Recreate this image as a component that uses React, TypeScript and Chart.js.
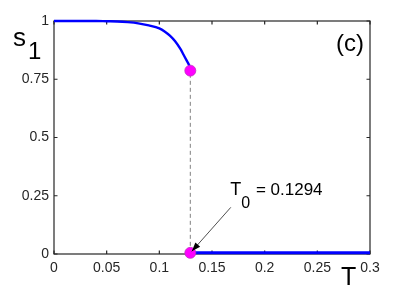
import React, { useEffect, useRef } from "react";
import { Chart, registerables } from "chart.js";

Chart.register(...registerables);

const T0 = 0.1294;
const upperT = [0, 0.02, 0.04, 0.05, 0.06, 0.07, 0.08, 0.09, 0.1, 0.105, 0.11, 0.115, 0.12, 0.123, 0.126, 0.128, 0.129, 0.1294];
const upperS = [1, 1, 1, 0.999, 0.998, 0.995, 0.99, 0.981, 0.968, 0.955, 0.937, 0.913, 0.88, 0.855, 0.83, 0.813, 0.799, 0.787];
const lowerT = [0.1294, 0.3];
const lowerS = [0.005, 0.005];
const jumpTop = 0.787;
const jumpBottom = 0.005;
const xTickValues = [0, 0.05, 0.1, 0.15, 0.2, 0.25, 0.3];
const xTickLabels = ["0", "0.05", "0.1", "0.15", "0.2", "0.25", "0.3"];
const yTickValues = [0, 0.25, 0.5, 0.75, 1];
const yTickLabels = ["0", "0.25", "0.5", "0.75", "1"];
const annotationText = " = 0.1294";

const FONT = "'Liberation Sans', Arial, Helvetica, sans-serif";

const decorPlugin = {
  id: "decor",
  beforeDatasetsDraw(chart: any) {
    const { ctx, chartArea: a, scales } = chart;
    ctx.save();
    ctx.strokeStyle = "#262626";
    ctx.lineWidth = 1.2;
    ctx.strokeRect(a.left, a.top, a.right - a.left, a.bottom - a.top);
    const L = 3.5;
    ctx.beginPath();
    for (const v of xTickValues) {
      const x = scales.x.getPixelForValue(v);
      ctx.moveTo(x, a.bottom);
      ctx.lineTo(x, a.bottom - L);
      ctx.moveTo(x, a.top);
      ctx.lineTo(x, a.top + L);
    }
    for (const v of yTickValues) {
      const y = scales.y.getPixelForValue(v);
      ctx.moveTo(a.left, y);
      ctx.lineTo(a.left + L, y);
      ctx.moveTo(a.right, y);
      ctx.lineTo(a.right - L, y);
    }
    ctx.stroke();
    ctx.restore();
  },
  afterDatasetsDraw(chart: any) {
    const { ctx, chartArea: a, scales } = chart;
    ctx.save();
    const px = scales.x.getPixelForValue(T0);
    const py = scales.y.getPixelForValue(jumpBottom);
    const tipX = px + 1.5;
    const tipY = py - 1.5;
    const sx = tipX + 39;
    const sy = tipY - 44;
    ctx.strokeStyle = "#222";
    ctx.fillStyle = "#000";
    ctx.lineWidth = 0.8;
    ctx.beginPath();
    ctx.moveTo(sx, sy);
    ctx.lineTo(tipX, tipY);
    ctx.stroke();
    const ang = Math.atan2(tipY - sy, tipX - sx);
    const hl = 9, hw = 3.2;
    ctx.beginPath();
    ctx.moveTo(tipX, tipY);
    ctx.lineTo(tipX - hl * Math.cos(ang) + hw * Math.sin(ang), tipY - hl * Math.sin(ang) - hw * Math.cos(ang));
    ctx.lineTo(tipX - hl * Math.cos(ang) - hw * Math.sin(ang), tipY - hl * Math.sin(ang) + hw * Math.cos(ang));
    ctx.closePath();
    ctx.fill();

    ctx.fillStyle = "#000";
    ctx.textBaseline = "alphabetic";
    ctx.textAlign = "left";
    ctx.font = `18px ${FONT}`;
    const tx = px + 40;
    const ty = py - 58;
    ctx.fillText("T", tx, ty);
    const tw = ctx.measureText("T").width;
    ctx.font = `16px ${FONT}`;
    ctx.fillText("0", tx + tw, ty + 13);
    const zw = ctx.measureText("0").width;
    ctx.font = `17px ${FONT}`;
    ctx.fillText(annotationText, tx + tw + zw + 1, ty);

    ctx.font = `24px ${FONT}`;
    ctx.textAlign = "right";
    ctx.textBaseline = "middle";
    ctx.fillText("(c)", a.right - 6, a.top + 23);

    ctx.textAlign = "left";
    ctx.textBaseline = "alphabetic";
    ctx.font = `26px ${FONT}`;
    ctx.fillText("s", 13, a.top + 25);
    ctx.font = `24px ${FONT}`;
    ctx.fillText("1", 28, a.top + 38);

    ctx.font = `25px ${FONT}`;
    ctx.fillText("T", 341, a.bottom + 31);
    ctx.restore();
  },
};

export default function App() {
  const ref = useRef<HTMLCanvasElement>(null);
  useEffect(() => {
    if (!ref.current) return;
    const chart = new Chart(ref.current, {
      type: "scatter",
      data: {
        datasets: [
          {
            data: [
              { x: T0, y: jumpTop },
              { x: T0, y: jumpBottom },
            ],
            pointRadius: 5.5,
            pointBackgroundColor: "#ff00ff",
            pointBorderColor: "#c030c0",
            pointBorderWidth: 0.8,
            showLine: false,
            clip: false,
          } as any,
          {
            data: upperT.map((t, i) => ({ x: t, y: upperS[i] })),
            showLine: true,
            borderColor: "#0000ff",
            borderWidth: 2.4,
            pointRadius: 0,
            cubicInterpolationMode: "monotone",
            clip: false,
          } as any,
          {
            data: lowerT.map((t, i) => ({ x: t, y: lowerS[i] })),
            showLine: true,
            borderColor: "#0000ff",
            borderWidth: 3,
            pointRadius: 0,
            clip: false,
          } as any,
          {
            data: [
              { x: T0, y: jumpBottom },
              { x: T0, y: jumpTop },
            ],
            showLine: true,
            borderColor: "#808080",
            borderWidth: 1,
            borderDash: [4, 3],
            pointRadius: 0,
          } as any,
        ],
      },
      options: {
        responsive: false,
        animation: false,
        layout: { padding: { left: 0, top: 21, right: 39, bottom: 0 } },
        plugins: { legend: { display: false }, tooltip: { enabled: false } },
        scales: {
          x: {
            type: "linear",
            min: 0,
            max: 0.3,
            afterBuildTicks: (s: any) => {
              s.ticks = xTickValues.map((v) => ({ value: v }));
            },
            afterFit: (s: any) => {
              s.height = 32;
            },
            grid: { display: false, drawTicks: false },
            border: { display: false },
            ticks: {
              autoSkip: false,
              maxRotation: 0,
              padding: 6,
              color: "#262626",
              font: { family: FONT, size: 14 },
              callback: (_v: any, i: number) => xTickLabels[i],
            },
          },
          y: {
            type: "linear",
            min: 0,
            max: 1,
            afterBuildTicks: (s: any) => {
              s.ticks = yTickValues.map((v) => ({ value: v }));
            },
            afterFit: (s: any) => {
              s.width = 54;
            },
            grid: { display: false, drawTicks: false },
            border: { display: false },
            ticks: {
              autoSkip: false,
              padding: 5,
              color: "#262626",
              font: { family: FONT, size: 14 },
              callback: (_v: any, i: number) => yTickLabels[i],
            },
          },
        },
      },
      plugins: [decorPlugin],
    });
    return () => chart.destroy();
  }, []);
  return (
    <div style={{ position: "absolute", left: 0, top: 0, width: 409, height: 286, background: "#fff" }}>
      <canvas ref={ref} width={409} height={286} style={{ width: 409, height: 286 }} />
    </div>
  );
}
